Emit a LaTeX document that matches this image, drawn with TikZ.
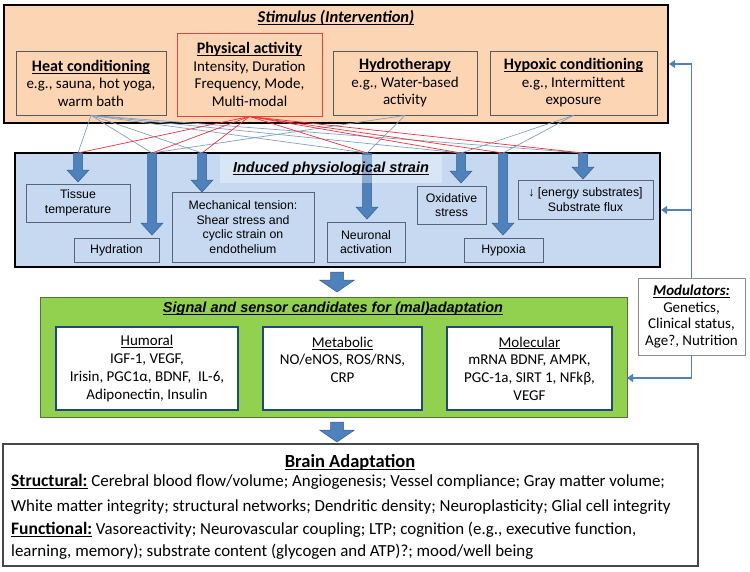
\documentclass[tikz,border=0pt]{standalone}
\usepackage{fontspec}
\setmainfont{Carlito}
\newfontfamily\arialf{Liberation Sans}
\newcommand\ulx[1]{\setbox0\hbox{#1}\leavevmode\rlap{\raisebox{-0.15em}{\rule{\wd0}{0.06em}}}\box0}
\usetikzlibrary{arrows.meta}
\definecolor{peach}{RGB}{252,213,180}
\definecolor{strainbg}{RGB}{198,217,241}
\definecolor{arrowblue}{RGB}{79,129,189}
\definecolor{arrowedge}{RGB}{56,93,138}
\definecolor{leaf}{RGB}{146,208,80}
\definecolor{leafedge}{RGB}{90,110,60}
\definecolor{navy}{RGB}{31,73,125}
\definecolor{linkblue}{RGB}{130,160,195}
\definecolor{linkred}{RGB}{235,50,60}
\definecolor{boxgrey}{RGB}{89,89,89}
\definecolor{pared}{RGB}{220,70,60}
\definecolor{strainedge}{RGB}{85,100,125}
\newcommand\barrow[3]{\filldraw[blockarrow] (#1-4.5,#2) -- (#1+4.5,#2) -- (#1+4.5,#3-12) -- (#1+11,#3-12) -- (#1,#3) -- (#1-11,#3-12) -- (#1-4.5,#3-12) -- cycle;}
\newcommand\bigarrow[3]{\filldraw[blockarrow] (#1-6.5,#2) -- (#1+6.5,#2) -- (#1+6.5,#3-12) -- (#1+17.5,#3-12) -- (#1,#3) -- (#1-17.5,#3-12) -- (#1-6.5,#3-12) -- cycle;}
\begin{document}
\begin{tikzpicture}[x=1pt,y=-1pt,
  outerbox/.style={draw=black, line width=2.2pt, inner sep=0pt},
  stimbox/.style={draw=boxgrey, line width=0.8pt, fill=peach, align=center, inner sep=0pt, font=\fontsize{15}{17.5}\selectfont},
  strainbox/.style={draw=strainedge, line width=0.9pt, fill=strainbg, align=center, inner sep=0pt, font=\arialf\fontsize{12.3}{14.5}\selectfont},
  sigbox/.style={draw=navy, line width=1.6pt, fill=white, align=center, inner sep=0pt, font=\fontsize{15}{17.7}\selectfont},
  blockarrow/.style={fill=arrowblue, draw=arrowedge, line width=0.5pt},
  link/.style={draw=linkblue, line width=0.7pt},
  redlink/.style={draw=linkred, line width=0.7pt},
  modline/.style={draw=arrowblue, line width=1.8pt, -{Triangle[length=6pt,width=8pt]}},
  brainline/.style={anchor=west, inner sep=0pt, font=\fontsize{16.9}{18}\selectfont}
]
\useasboundingbox (0,0) rectangle (750,571);

% ---------- Stimulus ----------
\node[outerbox, fill=peach, minimum width=664pt, minimum height=118pt] (stim) at (336,64) {};
\node[font=\fontsize{16.5}{18}\selectfont\bfseries\itshape] (stimtitle) at (336,18) {\ulx{Stimulus (Intervention)}};
\node[stimbox, minimum width=150pt, minimum height=64pt] (heat) at (91,83)
  {{\fontsize{16}{17.5}\selectfont\bfseries\ulx{Heat conditioning}}\\e.g., sauna, hot yoga,\\warm bath};
\node[stimbox, draw=pared, line width=1pt, minimum width=145pt, minimum height=83pt] (pa) at (249.5,74.5)
  {{\fontsize{16}{17.5}\selectfont\bfseries\ulx{Physical activity}}\\Intensity, Duration\\Frequency, Mode,\\Multi-modal};
\node[stimbox, minimum width=144pt, minimum height=64pt] (hydro) at (405,83)
  {{\fontsize{16}{17.5}\selectfont\bfseries\ulx{Hydrotherapy}}\\e.g., Water-based\\activity};
\node[stimbox, minimum width=167pt, minimum height=64pt] (hypox) at (573.5,83)
  {{\fontsize{16}{17.5}\selectfont\bfseries\ulx{Hypoxic conditioning}}\\e.g., Intermittent\\exposure};

% ---------- Strain ----------
\node[outerbox, fill=strainbg, minimum width=645pt, minimum height=114pt] (strain) at (337.5,210) {};
\coordinate (t1) at (78,153);
\coordinate (t2) at (152,153);
\coordinate (t3) at (202,153);
\coordinate (t4) at (367,153);
\coordinate (t5) at (461,153);
\coordinate (t6) at (503,153);
\coordinate (t7) at (583,153);
\barrow{78}{153}{182}
\barrow{152}{153}{235}
\barrow{202}{153}{192}
\barrow{367}{153}{219}
\barrow{461}{153}{183}
\barrow{503}{153}{235}
\barrow{583}{153}{179}
\fill[white, opacity=0.35] (220,155) rectangle (442,183);
\node[font=\arialf\fontsize{14.5}{16}\selectfont\bfseries\itshape] (straintitle) at (331,169) {\ulx{Induced physiological strain}};

\node[strainbox, minimum width=104pt, minimum height=38pt] (tissue) at (78,203) {Tissue\\temperature};
\node[strainbox, minimum width=85pt, minimum height=24pt] (hydration) at (116.5,250) {Hydration};
\node[strainbox, minimum width=142pt, minimum height=70pt] (mech) at (243,227) {Mechanical tension:\\Shear stress and\\cyclic strain on\\endothelium};
\node[strainbox, minimum width=78pt, minimum height=40pt] (neuro) at (366,242) {Neuronal\\activation};
\node[strainbox, minimum width=69pt, minimum height=38pt] (oxid) at (451.5,205) {Oxidative\\stress};
\node[strainbox, minimum width=79pt, minimum height=24pt] (hypoxia) at (503.5,250) {Hypoxia};
\node[strainbox, minimum width=135pt, minimum height=39pt] (energy) at (585.5,199.5) {↓ [energy substrates]\\Substrate flux};

% ---------- links stimulus -> strain ----------
\foreach \t in {t1,t2,t3,t4,t5,t7} \draw[link] (heat.south) -- (\t);
\foreach \t in {t2,t4} \draw[link] (hydro.south) -- (\t);
\foreach \t in {t5,t6} \draw[link] (hypox.south) -- (\t);
\foreach \i in {1,...,7} \draw[redlink] (pa.south) -- (t\i);

% ---------- Signal ----------
\bigarrow{337}{272}{292}
\node[draw=leafedge, line width=0.8pt, fill=leaf, minimum width=587pt, minimum height=120pt, inner sep=0pt] (sig) at (333.5,357) {};
\node[font=\arialf\fontsize{14.5}{16}\selectfont\bfseries\itshape] (sigtitle) at (333,309) {\ulx{Signal and sensor candidates for (mal)adaptation}};
\node[sigbox, minimum width=182pt, minimum height=83pt] (humoral) at (147,368.5)
  {\ulx{Humoral}\\IGF-1, VEGF,\\Irisin, PGC1α, BDNF,\ \ IL-6,\\Adiponectin, Insulin};
\node[sigbox, minimum width=159pt, minimum height=83pt] (metab) at (342.5,368.5)
  {\ulx{Metabolic}\\NO/eNOS, ROS/RNS,\\CRP\\\mbox{}};
\node[sigbox, minimum width=165pt, minimum height=83pt] (molec) at (529.5,368.5)
  {\ulx{Molecular}\\mRNA BDNF, AMPK,\\PGC-1a, SIRT 1, NFkβ,\\VEGF};

% ---------- Modulators ----------
\node[draw=boxgrey!70, line width=0.8pt, fill=white, minimum width=107pt, minimum height=77pt, inner sep=0pt, align=center, font=\fontsize{15}{16.7}\selectfont] (mod) at (691.5,316.5)
  {\textbf{\textit{\ulx{Modulators:}}}\\Genetics,\\Clinical status,\\Age?, Nutrition};
\coordinate (modin) at (627,378);
\draw[modline] (mod.north) |- (stim.east);
\draw[modline] (mod.north |- strain.east) -- (strain.east);
\draw[modline] (mod.south) |- (modin);

% ---------- Brain ----------
\bigarrow{337}{422}{442}
\node[draw=boxgrey!80!black, line width=1.3pt, fill=white, minimum width=695pt, minimum height=122pt, inner sep=0pt] (brain) at (350.5,505) {};
\node[font=\fontsize{18.5}{20}\selectfont\bfseries] (braintitle) at (350,462) {\ulx{Brain Adaptation}};
\node[brainline] (b1) at (11,482) {{\fontsize{17.5}{18}\selectfont\bfseries\ulx{Structural:}} Cerebral blood flow/volume; Angiogenesis; Vessel compliance; Gray matter volume;};
\node[brainline] (b2) at (11,507) {White matter integrity; structural networks; Dendritic density; Neuroplasticity; Glial cell integrity};
\node[brainline] (b3) at (11,530) {{\fontsize{17.5}{18}\selectfont\bfseries\ulx{Functional:}} Vasoreactivity; Neurovascular coupling; LTP; cognition (e.g., executive function,};
\node[brainline] (b4) at (11,552) {learning, memory); substrate content (glycogen and ATP)?; mood/well being};
\end{tikzpicture}
\end{document}
